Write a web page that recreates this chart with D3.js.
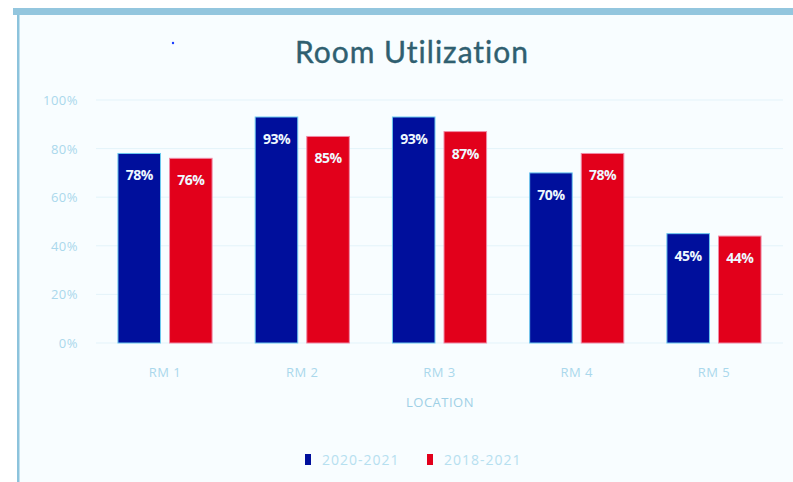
<!DOCTYPE html>
<html>
<head>
<meta charset="utf-8">
<script src="https://cdn.jsdelivr.net/npm/d3@7"></script>
<style>
  html, body { margin: 0; padding: 0; background: #ffffff; }
  svg { display: block; }
</style>
</head>
<body>
<svg id="chart" width="793" height="482"></svg>
<script>
const categories = ["RM 1", "RM 2", "RM 3", "RM 4", "RM 5"];
const seriesNames = ["2020-2021", "2018-2021"];
const values2020 = [0.78, 0.93, 0.93, 0.70, 0.45];
const values2018 = [0.76, 0.85, 0.87, 0.78, 0.44];
const yTicks = [0, 0.2, 0.4, 0.6, 0.8, 1.0];
const seriesColors = ["#000f9c", "#e2001b"];
const seriesStrokes = ["#6cc8ee", "#f08aa6"];

const svg = d3.select("#chart");
const W = 793, H = 482;

// panel background and frame
svg.append("rect").attr("x", 19).attr("y", 15).attr("width", W - 19).attr("height", H - 15).attr("fill", "#f8fdff");
svg.append("rect").attr("x", 13).attr("y", 8).attr("width", W - 13).attr("height", 7).attr("fill", "#93c6de");
svg.append("rect").attr("x", 17).attr("y", 15).attr("width", 2.5).attr("height", H - 15).attr("fill", "#8cc3dc");
svg.append("circle").attr("cx", 173).attr("cy", 43).attr("r", 1.2).attr("fill", "#1a3cff");

// title
svg.append("text")
  .attr("x", 412).attr("y", 63)
  .attr("text-anchor", "middle")
  .attr("font-family", "Lato, 'Open Sans', sans-serif")
  .attr("font-size", 30)
  .attr("letter-spacing", 1)
  .attr("fill", "#2f5f70")
  .style("paint-order", "stroke")
  .attr("stroke", "#2f5f70").attr("stroke-width", 0.4)
  .text("Room Utilization");

const x0 = d3.scaleBand().domain(categories).range([96.4, 782.6]).paddingInner(0.314).paddingOuter(0.157);
const x1 = d3.scaleBand().domain(seriesNames).range([0, x0.bandwidth()]).paddingInner(0.175);
const y = d3.scaleLinear().domain([0, 1]).range([343, 100]);

// gridlines
svg.append("g").selectAll("line").data(yTicks).join("line")
  .attr("x1", 96).attr("x2", 783)
  .attr("y1", d => y(d)).attr("y2", d => y(d))
  .attr("stroke", "#e3f3fa").attr("stroke-width", 1);

// y tick labels
svg.append("g").selectAll("text").data(yTicks).join("text")
  .attr("x", 78).attr("y", d => y(d) + 5)
  .attr("text-anchor", "end")
  .attr("font-family", "'Open Sans', sans-serif")
  .attr("font-size", 13)
  .attr("letter-spacing", 0.5)
  .attr("fill", "#aad8ec")
  .text(d => d3.format(".0%")(d));

const data = categories.map((c, i) => ({cat: c, vals: [values2020[i], values2018[i]]}));

const groups = svg.append("g").selectAll("g").data(data).join("g")
  .attr("transform", d => `translate(${x0(d.cat)},0)`);

groups.selectAll("rect").data(d => d.vals.map((v, j) => ({s: seriesNames[j], v, j}))).join("rect")
  .attr("x", d => x1(d.s))
  .attr("y", d => y(d.v))
  .attr("width", x1.bandwidth())
  .attr("height", d => y(0) - y(d.v))
  .attr("fill", d => seriesColors[d.j])
  .attr("stroke", d => seriesStrokes[d.j])
  .attr("stroke-width", 1);

groups.selectAll("text").data(d => d.vals.map((v, j) => ({s: seriesNames[j], v, j}))).join("text")
  .attr("x", d => x1(d.s) + x1.bandwidth() / 2)
  .attr("y", d => y(d.v) + 27)
  .attr("text-anchor", "middle")
  .attr("font-family", "'Open Sans', sans-serif")
  .attr("font-weight", "bold")
  .attr("font-size", 14)
  .attr("letter-spacing", -0.5)
  .attr("fill", "#eef8ff")
  .text(d => d3.format(".0%")(d.v));

// x axis labels
svg.append("g").selectAll("text").data(categories).join("text")
  .attr("x", d => x0(d) + x0.bandwidth() / 2)
  .attr("y", 377)
  .attr("text-anchor", "middle")
  .attr("font-family", "'Open Sans', sans-serif")
  .attr("font-size", 13)
  .attr("letter-spacing", 0.5)
  .attr("fill", "#aad8ec")
  .text(d => d);

svg.append("text")
  .attr("x", 440).attr("y", 407)
  .attr("text-anchor", "middle")
  .attr("font-family", "'Open Sans', sans-serif")
  .attr("font-size", 13)
  .attr("letter-spacing", 0.5)
  .attr("fill", "#9fd0e6")
  .text("LOCATION");

// legend
const legendX = [305, 427];
const lg = svg.append("g").selectAll("g").data(seriesNames).join("g")
  .attr("transform", (d, i) => `translate(${legendX[i]},454)`);
lg.append("rect").attr("width", 6).attr("height", 11)
  .attr("fill", (d, i) => seriesColors[i]);
lg.append("text").attr("x", 17).attr("y", 11)
  .attr("font-family", "'Open Sans', sans-serif")
  .attr("font-size", 14)
  .attr("letter-spacing", 1)
  .attr("fill", "#b6e0f0")
  .text(d => d);
</script>
</body>
</html>
